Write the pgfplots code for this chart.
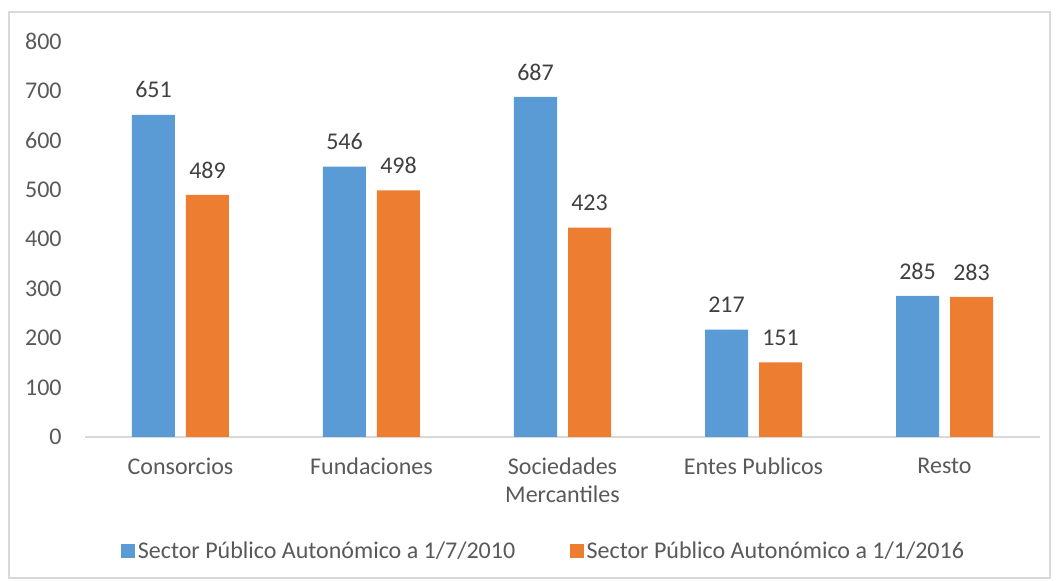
\documentclass[border=0pt]{standalone}
\usepackage{fontspec}
\setmainfont{Carlito}
\usepackage{pgfplots}
\pgfplotsset{compat=1.18}

\definecolor{cblue}{HTML}{5B9BD5}
\definecolor{corange}{HTML}{ED7D31}
\definecolor{ctext}{HTML}{595959}
\definecolor{clabel}{HTML}{404040}
\definecolor{cline}{HTML}{D9D9D9}

\begin{document}
\begin{tikzpicture}[x=1pt,y=1pt]
% outer chart frame (pixel 1 = 0.75pt, axis origin at pixel (85,437))
\path[use as bounding box] (-63.75,-108) rectangle (729.75,327.75);
\draw[cline, line width=1pt] (-57,-105.75) rectangle (723.75,318.75);
\begin{axis}[
    at={(0,0)}, anchor=south west,
    scale only axis,
    width=716.25pt, height=297pt,
    ybar=8.25pt,
    bar width=32.25pt,
    xmin=-0.5, xmax=4.5,
    ymin=0, ymax=800,
    xtick=data,
    xticklabels={Consorcios,Fundaciones,{Sociedades\\Mercantiles},Entes Publicos,Resto},
    x tick label style={align=center, font=\fontsize{18}{21}\selectfont, text=ctext, yshift=-12pt},
    ytick={0,100,...,800},
    y tick label style={font=\fontsize{18}{21}\selectfont, text=ctext, xshift=-14pt, anchor=east},
    /pgf/number format/assume math mode=true,
    major tick length=0pt,
    axis x line*=bottom,
    axis y line*=left,
    x axis line style={cline, line width=1.5pt, -},
    y axis line style={draw=none},
    ytick style={draw=none}, xtick style={draw=none},
    nodes near coords,
    nodes near coords style={font=\fontsize{18}{21}\selectfont, text=clabel, yshift=9pt},
    legend columns=2,
    legend style={draw=none, at={(0.4806,-0.2878)}, anchor=center,
        font=\fontsize{18}{21}\selectfont, text=ctext,
        /tikz/every even column/.append style={column sep=39pt}},
    legend image code/.code={\fill[#1] (0pt,-5.25pt) rectangle (10.5pt,5.25pt);},
]
\addplot[fill=cblue, draw=none] coordinates {(0,651) (1,546) (2,687) (3,217) (4,285)};
\addlegendentry{Sector Público Autonómico a 1/7/2010}
\addplot[fill=corange, draw=none] coordinates {(0,489) (1,498) (2,423) (3,151) (4,283)};
\addlegendentry{Sector Público Autonómico a 1/1/2016}
\end{axis}
\end{tikzpicture}
\end{document}
